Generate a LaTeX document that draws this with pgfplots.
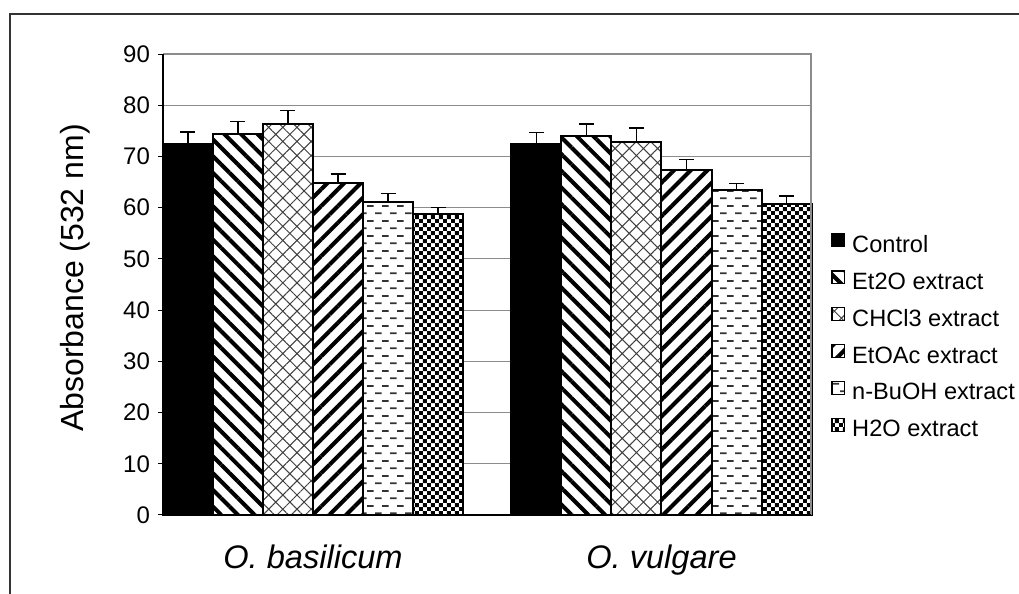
\documentclass[border=0pt]{standalone}
\usepackage{pgfplots}
\pgfplotsset{compat=1.18}
\usepackage{fontspec}
\setmainfont{Liberation Sans}
\usetikzlibrary{patterns,patterns.meta}

\pgfdeclarepatternformonly{hdash}{\pgfpointorigin}{\pgfqpoint{7.5pt}{7.7pt}}{\pgfqpoint{7.5pt}{7.7pt}}{%
 \pgfsetlinewidth{0.9pt}\pgfsetbuttcap
 \pgfpathmoveto{\pgfqpoint{0pt}{1.9pt}}\pgfpathlineto{\pgfqpoint{3.5pt}{1.9pt}}
 \pgfpathmoveto{\pgfqpoint{3.75pt}{5.75pt}}\pgfpathlineto{\pgfqpoint{7.25pt}{5.75pt}}
 \pgfusepath{stroke}}
\pgfdeclarepatternformonly{checker}{\pgfpointorigin}{\pgfqpoint{4.2pt}{4.2pt}}{\pgfqpoint{4.2pt}{4.2pt}}{%
 \pgfpathrectangle{\pgfpointorigin}{\pgfqpoint{2.1pt}{2.1pt}}
 \pgfpathrectangle{\pgfqpoint{2.1pt}{2.1pt}}{\pgfqpoint{2.1pt}{2.1pt}}
 \pgfusepath{fill}}

\pgfplotsset{
  keysq/.style={legend image code/.code={\draw[##1,line width=0.6pt] (0pt,-0.4pt) rectangle (6.3pt,5.9pt);}},
}

\begin{document}
\begin{tikzpicture}
\useasboundingbox (0,0) rectangle (509.5pt,297pt);
\draw[black!80, line width=0.6pt] (5pt,0) -- (5pt,290pt) -- (509.5pt,290pt);
\begin{axis}[
  at={(81.5pt,39.5pt)}, anchor=south west,
  scale only axis, width=324pt, height=230.5pt,
  ybar=0pt, bar shift=0pt, bar width=0.1435,
  xmin=-0.4304, xmax=1.429,
  ymin=0, ymax=90,
  ytick={0,10,...,90},
  xtick={0,1},
  xticklabels={O. basilicum, O. vulgare},
  x tick style={draw=none},
  y tick style={black, line width=0.5pt},
  major tick length=2.5pt,
  tick align=outside,
  ytick pos=left,
  xtick pos=bottom,
  axis line style={draw=none},
  ymajorgrids,
  grid style={gray!90, line width=0.5pt},
  /pgf/number format/assume math mode=true,
  yticklabel style={font=\fontsize{12}{14}\selectfont, xshift=-0.5pt},
  xticklabel style={font=\fontsize{16.3}{19}\selectfont\itshape, yshift=-9pt},
  legend style={draw=none, fill=none, at={(1.0309,0.6117)}, anchor=north west,
    font=\fontsize{11.8}{14}\selectfont, row sep=7pt, column sep=3.5pt,
    inner sep=0pt,
    nodes={inner sep=0pt, text height=8.5pt, text depth=2pt}},
  legend cell align=left,
  every axis plot/.append style={keysq},
  error bars/y dir=plus,
  error bars/y explicit,
  error bars/error bar style={black, line width=0.8pt},
  error bars/error mark options={black, rotate=90, mark size=3.75pt, line width=0.8pt},
  clip=false,
]
% x = category index (0 = O. basilicum, 1 = O. vulgare) + bar offset
\addplot[draw=black, line width=1pt, fill=black,
  error bars/.cd, y dir=plus, y explicit]
  coordinates {(-0.35875,72.5) +- (0,2.3) (0.64125,72.5) +- (0,2.2)};
\addplot[draw=black, line width=1pt, fill=white,
  postaction={pattern={Lines[angle=-45,distance=5.9pt,line width=2pt]}, pattern color=black},
  error bars/.cd, y dir=plus, y explicit]
  coordinates {(-0.21525,74.4) +- (0,2.4) (0.78475,74.0) +- (0,2.3)};
\addplot[draw=black, line width=1pt, fill=white,
  postaction={pattern={Hatch[angle=45,distance=5pt,line width=0.5pt]}, pattern color=black!75},
  error bars/.cd, y dir=plus, y explicit]
  coordinates {(-0.07175,76.3) +- (0,2.7) (0.92825,72.8) +- (0,2.8)};
\addplot[draw=black, line width=1pt, fill=white,
  postaction={pattern={Lines[angle=45,distance=5.9pt,line width=2pt]}, pattern color=black},
  error bars/.cd, y dir=plus, y explicit]
  coordinates {(0.07175,64.8) +- (0,1.8) (1.07175,67.4) +- (0,2.0)};
\addplot[draw=black, line width=1pt, fill=white,
  postaction={pattern=hdash, pattern color=black!80},
  error bars/.cd, y dir=plus, y explicit]
  coordinates {(0.21525,61.2) +- (0,1.6) (1.21525,63.5) +- (0,1.2)};
\addplot[draw=black, line width=1pt, fill=white,
  postaction={pattern=checker, pattern color=black},
  error bars/.cd, y dir=plus, y explicit]
  coordinates {(0.35875,58.8) +- (0,1.2) (1.35875,60.8) +- (0,1.5)};
\legend{Control, Et2O extract, CHCl3 extract, EtOAc extract, n-BuOH extract, H2O extract}
\draw[gray!90, line width=0.6pt] (rel axis cs:0,1) -- (rel axis cs:1,1) -- (rel axis cs:1,0);
\draw[black, line width=0.6pt] (rel axis cs:0,1) -- (rel axis cs:0,0) -- (rel axis cs:1,0);
\end{axis}
\node[rotate=90, font=\fontsize{16}{19}\selectfont] at (37.5pt,158pt) {Absorbance (532 nm)};
\end{tikzpicture}
\end{document}
